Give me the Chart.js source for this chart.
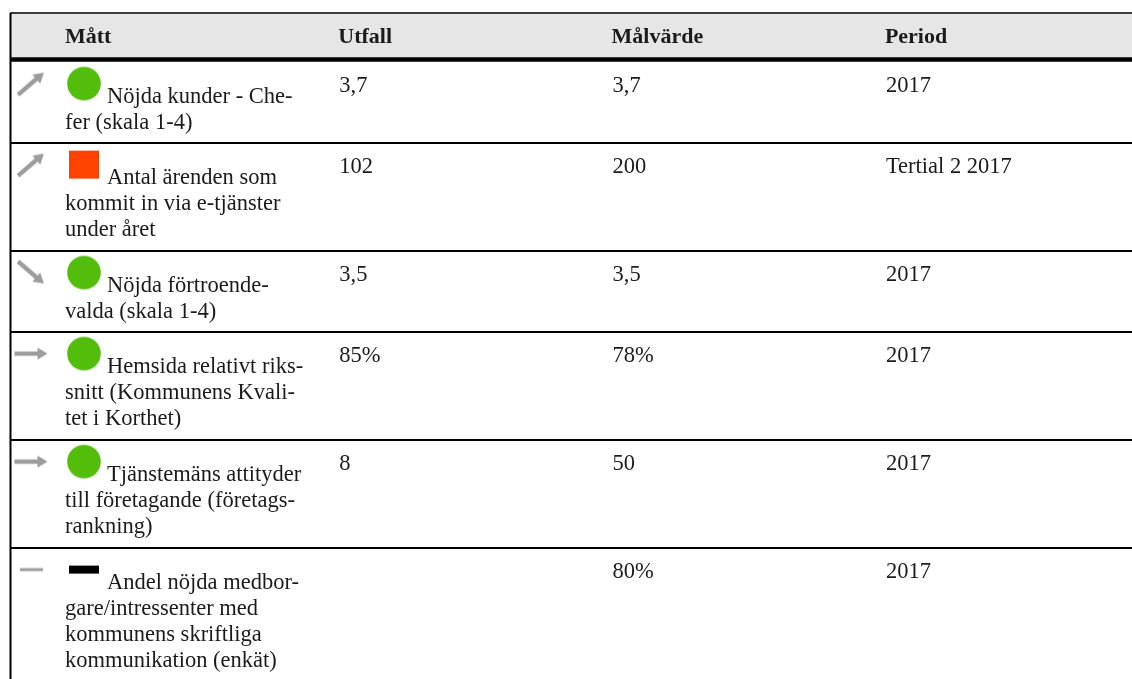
<!DOCTYPE html>
<html lang="sv">
<head>
<meta charset="UTF-8">
<title>Mått</title>
<script src="https://cdn.jsdelivr.net/npm/chart.js@4"></script>
<style>
    body { margin: 0; background: #fff; }
    #wrap { width: 1132px; height: 679px; }
</style>
</head>
<body>
<div id="wrap"><canvas id="tabell" width="1132" height="679"></canvas></div>
<script>
    // Tabellens innehåll
    const columns = ['Mått', 'Utfall', 'Målvärde', 'Period'];
    const measures = [
        ['Nöjda kunder - Che-', 'fer (skala 1-4)'],
        ['Antal ärenden som', 'kommit in via e-tjänster', 'under året'],
        ['Nöjda förtroende-', 'valda (skala 1-4)'],
        ['Hemsida relativt riks-', 'snitt (Kommunens Kvali-', 'tet i Korthet)'],
        ['Tjänstemäns attityder', 'till företagande (företags-', 'rankning)'],
        ['Andel nöjda medbor-', 'gare/intressenter med', 'kommunens skriftliga', 'kommunikation (enkät)']
    ];
    const outcomes = ['3,7', '102', '3,5', '85%', '8', ''];
    const targets = ['3,7', '200', '3,5', '78%', '50', '80%'];
    const periods = ['2017', 'Tertial 2 2017', '2017', '2017', '2017', '2017'];
    const trends = ['up', 'up', 'down', 'flat', 'flat', 'none'];
    const statuses = ['green', 'red', 'green', 'green', 'green', 'none'];

    const colW = 273.3;      // px per kolumn
    const lineH = 27;        // px per textrad (y-skalans enhet)
    const textFont = '22.5px "Liberation Serif", "Times New Roman", serif';
    const headFont = 'bold 22px "Liberation Serif", "Times New Roman", serif';
    const ink = '#1b1b1b';

    // radernas start i y-enheter (en rad = antal textrader + 1)
    const headerEnd = 44 / lineH;
    const rowTops = [];
    let acc = 49 / lineH;
    measures.forEach(m => { rowTops.push(acc); acc += m.length + 1; });

    // ikoner som punktstilar
    function statusIcon(kind) {
        const c = document.createElement('canvas');
        c.width = 36; c.height = 36;
        const g = c.getContext('2d');
        if (kind === 'green') {
            g.fillStyle = '#52bd0b';
            g.beginPath(); g.arc(18, 18, 16.8, 0, Math.PI * 2); g.fill();
        } else if (kind === 'red') {
            g.fillStyle = '#ff4200';
            g.fillRect(3, 4, 30, 28);
        } else {
            g.fillStyle = '#000';
            g.fillRect(3, 14, 30, 8);
        }
        return c;
    }

    function trendIcon(kind) {
        const c = document.createElement('canvas');
        c.width = 40; c.height = 40;
        const g = c.getContext('2d');
        g.fillStyle = '#9c9c9c';
        g.translate(20, 20);
        if (kind === 'none') {
            g.fillRect(-11, -1.5, 23, 3);
            return c;
        }
        let len = 16.5;
        if (kind === 'up') { g.rotate(-0.71); len = 17; }
        if (kind === 'down') { g.rotate(0.71); len = 17; }
        g.fillRect(-len, -2.2, len + 8, 4.4);
        g.beginPath();
        g.moveTo(len, 0);
        g.lineTo(len - 10, -6);
        g.lineTo(len - 10, 6);
        g.closePath();
        g.fill();
        return c;
    }

    const trendPoints = trends.map((t, i) => ({ x: -24 / colW, y: rowTops[i] + 0.8 }));
    const statusPoints = statuses.map((s, i) => ({ x: 29 / colW, y: rowTops[i] + 0.8 }));

    // rutnät och text ritas före punkterna
    const tablePlugin = {
        id: 'tablePlugin',
        beforeDatasetsDraw(chart) {
            const { ctx, chartArea, scales: { x, y } } = chart;
            const left = chartArea.left, right = chartArea.right;
            const top = y.getPixelForValue(0);
            const hb = y.getPixelForValue(headerEnd);
            ctx.save();

            ctx.fillStyle = '#e6e6e6';
            ctx.fillRect(left, top, right - left, hb - top);

            ctx.strokeStyle = '#000';
            ctx.lineWidth = 1.5;
            ctx.beginPath(); ctx.moveTo(left, top); ctx.lineTo(right, top); ctx.stroke();

            ctx.lineWidth = 4.4;
            const tb = hb + 2.5;
            ctx.beginPath(); ctx.moveTo(left, tb); ctx.lineTo(right, tb); ctx.stroke();

            ctx.lineWidth = 2;
            rowTops.forEach((r, i) => {
                if (i === 0) return;
                const py = y.getPixelForValue(r);
                ctx.beginPath(); ctx.moveTo(left, py); ctx.lineTo(right, py); ctx.stroke();
            });
            ctx.beginPath(); ctx.moveTo(left + 0.5, top); ctx.lineTo(left + 0.5, chartArea.bottom); ctx.stroke();

            ctx.fillStyle = ink;
            ctx.textBaseline = 'alphabetic';
            ctx.font = headFont;
            columns.forEach((c, j) => {
                ctx.fillText(c, x.getPixelForValue(j) + 10, top + 30);
            });

            ctx.font = textFont;
            rowTops.forEach((r, i) => {
                const py = y.getPixelForValue(r);
                measures[i].forEach((line, k) => {
                    const px = x.getPixelForValue(0) + (k === 0 ? 52 : 10);
                    ctx.fillText(line, px, py + 41 + k * 26);
                });
                [outcomes, targets, periods].forEach((col, j) => {
                    ctx.fillText(col[i], x.getPixelForValue(j + 1) + 11, py + 30);
                });
            });
            ctx.restore();
        }
    };

    const ctx = document.getElementById('tabell').getContext('2d');
    const tabell = new Chart(ctx, {
        type: 'scatter',
        data: {
            datasets: [
                {
                    label: 'Trend',
                    data: trendPoints,
                    pointStyle: trends.map(trendIcon),
                    pointRadius: 18,
                    clip: false
                },
                {
                    label: 'Status',
                    data: statusPoints,
                    pointStyle: statuses.map(statusIcon),
                    pointRadius: 18,
                    clip: false
                }
            ]
        },
        options: {
            responsive: false,
            animation: false,
            events: [],
            layout: { autoPadding: false, padding: { left: 10, top: 13, right: 0, bottom: 0 } },
            plugins: {
                legend: { display: false },
                tooltip: { enabled: false }
            },
            scales: {
                x: { type: 'linear', display: false, min: -45 / colW, max: (1122 - 45) / colW },
                y: { type: 'linear', display: false, reverse: true, min: 0, max: 666 / lineH }
            }
        },
        plugins: [tablePlugin]
    });
</script>
</body>
</html>
